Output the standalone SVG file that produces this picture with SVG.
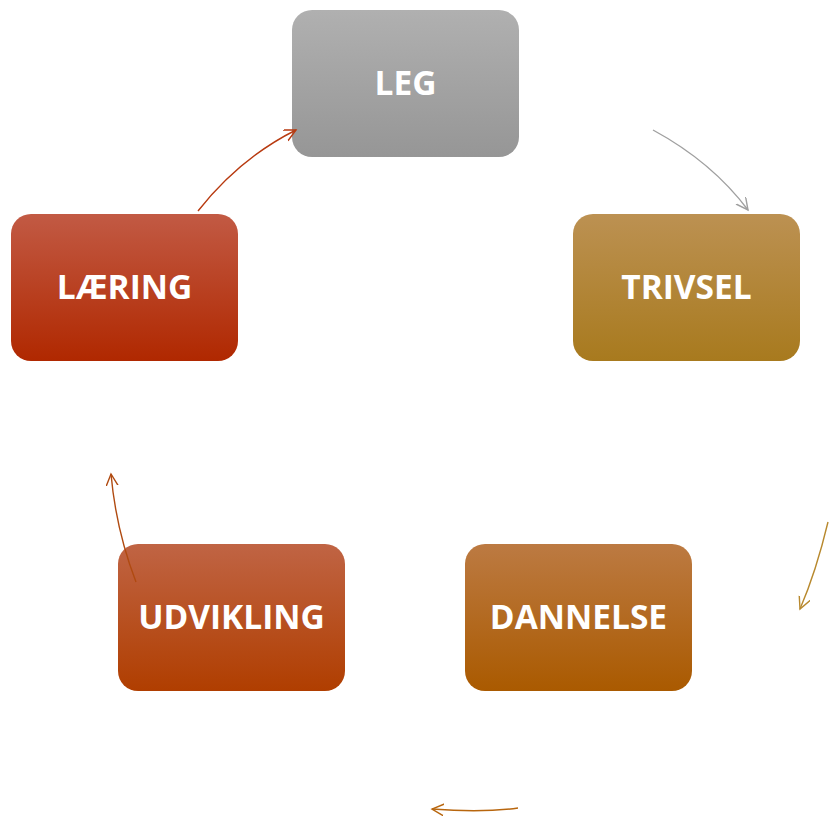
<svg xmlns="http://www.w3.org/2000/svg" width="829" height="820" viewBox="0 0 829 820">
<style>
.lbl{font-family:"Open Sans","Liberation Sans",sans-serif;font-weight:bold;font-size:33.5px;fill:#fff;text-anchor:middle;dominant-baseline:central}
.c{fill:none;stroke-width:1.4}
</style>
<defs>
<linearGradient id="gLeg" x1="0" y1="0" x2="0" y2="1"><stop offset="0" stop-color="#b0b0b0"/><stop offset="1" stop-color="#969696"/></linearGradient>
<linearGradient id="gTri" x1="0" y1="0" x2="0" y2="1"><stop offset="0" stop-color="#bc9152"/><stop offset="1" stop-color="#a87a1e"/></linearGradient>
<linearGradient id="gDan" x1="0" y1="0" x2="0" y2="1"><stop offset="0" stop-color="#bc7a42"/><stop offset="1" stop-color="#aa5a00"/></linearGradient>
<linearGradient id="gUdv" x1="0" y1="0" x2="0" y2="1"><stop offset="0" stop-color="#c06444"/><stop offset="1" stop-color="#b03e00"/></linearGradient>
<linearGradient id="gLae" x1="0" y1="0" x2="0" y2="1"><stop offset="0" stop-color="#c25a44"/><stop offset="1" stop-color="#b02800"/></linearGradient>
<marker id="mGray" markerWidth="14" markerHeight="14" refX="12" refY="6" orient="auto" markerUnits="userSpaceOnUse"><path d="M0,0 L12,6 L0,12" fill="none" stroke="#a0a0a0" stroke-width="1.4"/></marker>
<marker id="mGold" markerWidth="14" markerHeight="14" refX="12" refY="6" orient="auto" markerUnits="userSpaceOnUse"><path d="M0,0 L12,6 L0,12" fill="none" stroke="#b8892e" stroke-width="1.4"/></marker>
<marker id="mOra" markerWidth="14" markerHeight="14" refX="12" refY="6" orient="auto" markerUnits="userSpaceOnUse"><path d="M0,0 L12,6 L0,12" fill="none" stroke="#b8660e" stroke-width="1.4"/></marker>
<marker id="mRu" markerWidth="14" markerHeight="14" refX="12" refY="6" orient="auto" markerUnits="userSpaceOnUse"><path d="M0,0 L12,6 L0,12" fill="none" stroke="#b04a10" stroke-width="1.4"/></marker>
<marker id="mRed" markerWidth="14" markerHeight="14" refX="12" refY="6" orient="auto" markerUnits="userSpaceOnUse"><path d="M0,0 L12,6 L0,12" fill="none" stroke="#b83a10" stroke-width="1.4"/></marker>
</defs>
<g id="leg"><rect x="292" y="10" width="227" height="147" rx="20" fill="url(#gLeg)"/><text class="lbl" x="405.5" y="82">LEG</text></g>
<g id="trivsel"><rect x="573" y="214" width="227" height="147" rx="20" fill="url(#gTri)"/><text class="lbl" x="686.5" y="286">TRIVSEL</text></g>
<g id="dannelse"><rect x="465" y="544" width="227" height="147" rx="20" fill="url(#gDan)"/><text class="lbl" x="578.5" y="616">DANNELSE</text></g>
<g id="udvikling"><rect x="118" y="544" width="227" height="147" rx="20" fill="url(#gUdv)"/><text class="lbl" x="231.5" y="616">UDVIKLING</text></g>
<g id="laering"><rect x="11" y="214" width="227" height="147" rx="20" fill="url(#gLae)"/><text class="lbl" x="124.5" y="286">LÆRING</text></g>
<g id="connectors">
<path class="c" stroke="#a0a0a0" d="M653,130 Q712,162 748,210" marker-end="url(#mGray)"/>
<path class="c" stroke="#b8892e" d="M828,522 Q816,572 800,609" marker-end="url(#mGold)"/>
<path class="c" stroke="#b8660e" d="M518,808 Q482,813 432,809" marker-end="url(#mOra)"/>
<path class="c" stroke="#b04a10" d="M136,582 Q116,530 111,474" marker-end="url(#mRu)"/>
<path class="c" stroke="#b83a10" d="M198,211 Q240,158 296,130" marker-end="url(#mRed)"/>
</g>
</svg>
